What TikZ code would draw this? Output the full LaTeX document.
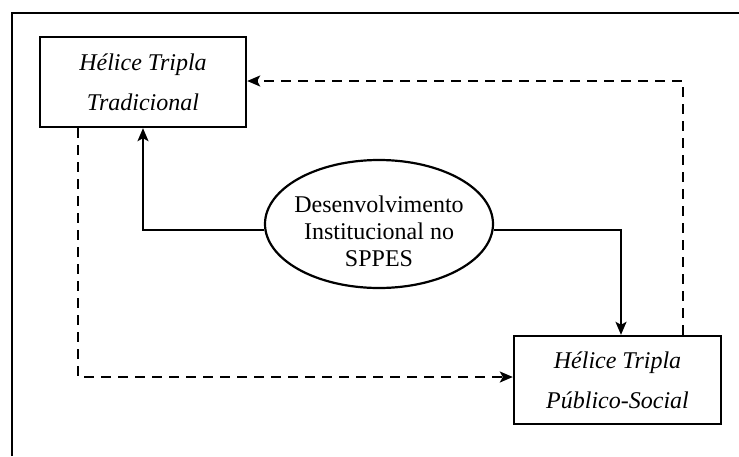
\documentclass[tikz,border=0pt]{standalone}
\usepackage{fontspec}
\setmainfont{Liberation Serif}
\usetikzlibrary{arrows.meta,shapes.geometric}
\tikzset{
  helixbox/.style={draw, line width=2.4pt, minimum width=206pt, minimum height=90pt, inner sep=0pt,
    align=center, font=\fontsize{24}{40}\selectfont\itshape},
  ellbox/.style={draw, ellipse, line width=2.2pt, minimum width=228pt, minimum height=128pt, inner sep=0pt},
  elltext/.style={align=center, inner sep=0pt, font=\fontsize{24}{27}\selectfont},
  solidarrow/.style={line width=2pt, -{Stealth[length=13pt,width=11pt,inset=3pt]}},
  dasharrow/.style={line width=2pt, dash pattern=on 10pt off 7pt, -{Stealth[length=13pt,width=11pt,inset=3pt]}},
}
\begin{document}
\begin{tikzpicture}[x=1pt,y=-1pt]
\useasboundingbox (0,0) rectangle (739,456);
\draw[line width=2.8pt] (12,456) -- (12,13) -- (739,13);
\node[helixbox] (trad) at (143,82) {Hélice Tripla\\Tradicional};
\node[helixbox, minimum width=207pt, minimum height=88pt] (pub) at (617.5,380) {Hélice Tripla\\Público-Social};
\node[ellbox] (ell) at (379,224) {};
\node[elltext] (ellt) at (379,231) {Desenvolvimento\\Institucional no\\SPPES};
\draw[solidarrow] (ell.183.5) -| (trad.south);
\draw[solidarrow] (ell.-3.5) -| ([xshift=3.5pt]pub.north);
\draw[dasharrow] ([xshift=-65pt]trad.south) |- ([yshift=3pt]pub.west);
\draw[dasharrow] ([xshift=65.5pt]pub.north) |- ([yshift=1pt]trad.east);
\end{tikzpicture}
\end{document}
